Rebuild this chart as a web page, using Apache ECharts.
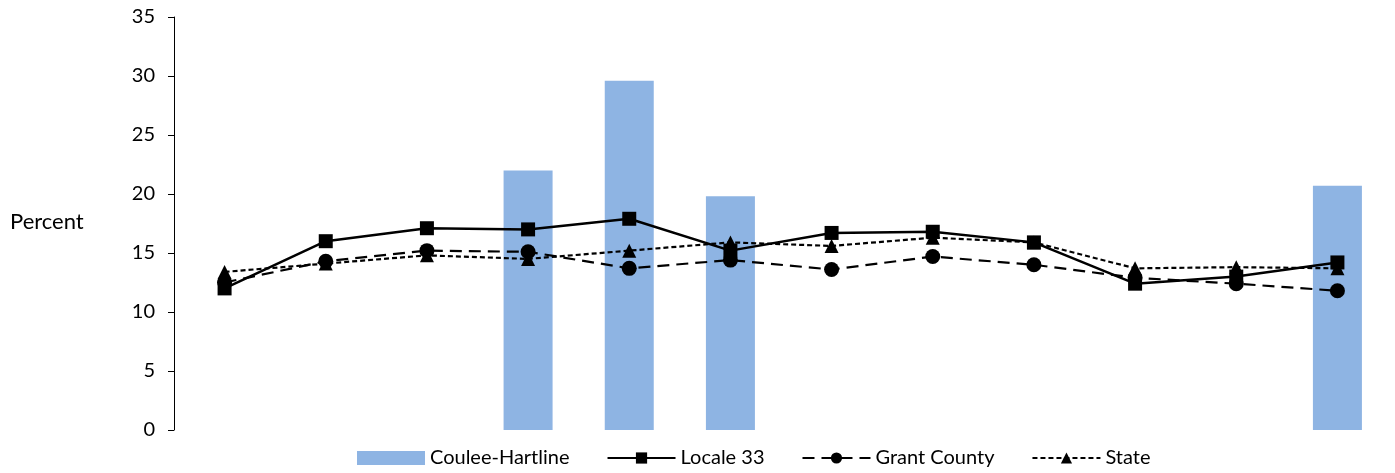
<!DOCTYPE html>
<html><head><meta charset="utf-8">
<script src="https://cdn.jsdelivr.net/npm/echarts@6/dist/echarts.min.js"></script>
<style>html,body{margin:0;padding:0;background:#fff}#c{width:1395px;height:473px}</style>
</head><body><div id="c"></div>
<script>
const categories = ['1','2','3','4','5','6','7','8','9','10','11','12'];
const yTicks = [0,5,10,15,20,25,30,35];
const couleeHartline = [null,null,null,22.0,29.6,19.8,null,null,null,null,null,20.7];
const locale33 = [12.0,16.0,17.1,17.0,17.9,15.2,16.7,16.8,15.9,12.4,13.0,14.2];
const grantCounty = [12.5,14.3,15.2,15.1,13.7,14.4,13.6,14.7,14.0,12.9,12.4,11.8];
const state = [13.4,14.1,14.8,14.5,15.2,15.9,15.6,16.3,15.9,13.7,13.8,13.7];

const FONT = 'Lato';
const chart = echarts.init(document.getElementById('c'));
chart.setOption({
  animation:false,
  textStyle:{fontFamily:FONT},
  grid:{left:174,right:7,top:17,bottom:43,containLabel:false},
  graphic:[{type:'text',left:10,top:211,style:{text:'Percent',font:'22px '+FONT,fill:'#000'}}],
  legend:{
    bottom:0,left:352,itemGap:37,itemWidth:68,itemHeight:14,
    textStyle:{fontSize:20,color:'#000',fontFamily:FONT},
    data:[{name:'Coulee-Hartline',icon:'rect'},'Locale 33','Grant County','State']
  },
  xAxis:{type:'category',data:categories,axisLine:{show:false},axisTick:{show:false},axisLabel:{show:false},splitLine:{show:false}},
  yAxis:{type:'value',min:yTicks[0],max:yTicks[yTicks.length-1],interval:5,
    axisLine:{show:true,lineStyle:{color:'#000',width:1}},
    axisTick:{show:true,length:6,lineStyle:{color:'#000'}},
    axisLabel:{fontSize:20,color:'#000',margin:19,fontFamily:FONT},
    splitLine:{show:false}},
  series:[
    {name:'Coulee-Hartline',type:'bar',data:couleeHartline,barWidth:49,itemStyle:{color:'#8eb4e3'}},
    {name:'Locale 33',type:'line',data:locale33,symbol:'rect',symbolSize:14,
      lineStyle:{color:'#000',width:2.5,type:'solid'},itemStyle:{color:'#000'}},
    {name:'Grant County',type:'line',data:grantCounty,symbol:'circle',symbolSize:15,
      lineStyle:{color:'#000',width:2.2,type:[12,7]},itemStyle:{color:'#000'}},
    {name:'State',type:'line',data:state,symbol:'triangle',symbolSize:14,
      lineStyle:{color:'#000',width:2.2,type:[5,3]},itemStyle:{color:'#000'}}
  ]
});
</script></body></html>
